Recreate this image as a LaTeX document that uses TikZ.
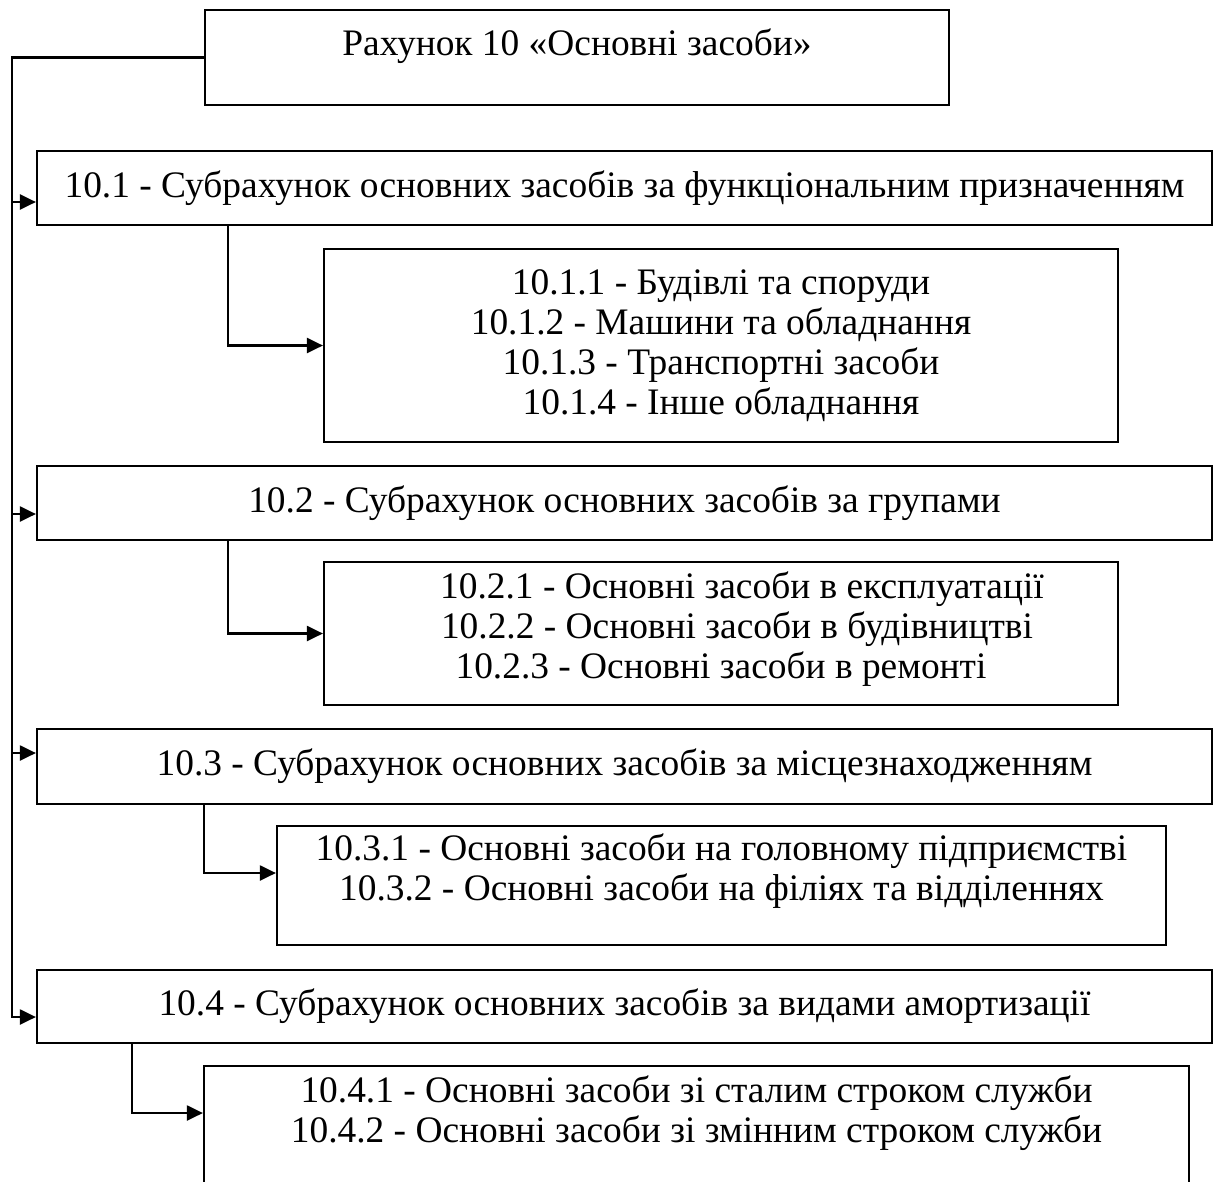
\documentclass[tikz,border=0pt]{standalone}
\usepackage{fontspec}
\setmainfont{Liberation Serif}
\usetikzlibrary{arrows.meta,positioning}
\tikzset{box/.style={draw,rectangle,inner sep=0pt,align=center}}
\begin{document}
\begin{tikzpicture}[x=1pt,y=-1pt,>={Triangle[length=16pt,width=15pt]},line width=2.2pt,font=\fontsize{37.4}{40}\selectfont]
	\def\tx{12} \def\wide{1175pt} % trunk and width of the subaccount boxes
	\useasboundingbox (0,0) rectangle (1213,1181);
	\clip (0,0) rectangle (1213,1181);
	\node[box,minimum width=744pt,minimum height=95pt,text depth=30pt] (acc) at (577,57.5) {Рахунок 10 «Основні засоби»};
	\node[box,minimum width=\wide,minimum height=74pt] (b1) at (624.5,188) {10.1 - Субрахунок основних засобів за функціональним призначенням};
	\node[box,minimum width=794pt,minimum height=193pt] (s1) at (721,345.5) {10.1.1 - Будівлі та споруди\\10.1.2 - Машини та обладнання\\10.1.3 - Транспортні засоби\\10.1.4 - Інше обладнання};
	\node[box,minimum width=\wide,minimum height=74pt] (b2) at (624.5,503) {10.2 - Субрахунок основних засобів за групами};
	\node[box,minimum width=794pt,minimum height=143pt,text depth=17pt] (s2) at (721,633.5) {\hspace*{42pt}10.2.1 - Основні засоби в експлуатації\\\hspace*{32pt}10.2.2 - Основні засоби в будівництві\\10.2.3 - Основні засоби в ремонті};
	\node[box,minimum width=\wide,minimum height=75pt] (b3) at (624.5,766.5) {10.3 - Субрахунок основних засобів за місцезнаходженням};
	\node[box,minimum width=889pt,minimum height=119pt,text depth=37pt] (s3) at (721.5,885.5) {10.3.1 - Основні засоби на головному підприємстві\\10.3.2 - Основні засоби на філіях та відділеннях};
	\node[box,minimum width=\wide,minimum height=73pt] (b4) at (624.5,1006.5) {10.4 - Субрахунок основних засобів за видами амортизації};
	\node[box,minimum width=985pt,minimum height=124pt,text depth=37pt] (s4) at (696.5,1128) {10.4.1 - Основні засоби зі сталим строком служби\\10.4.2 - Основні засоби зі змінним строком служби};
	\coordinate (tr) at (\tx,0);
	\coordinate (a1) at ([yshift=-14pt]b1.west);
	\coordinate (a2) at ([yshift=-11pt]b2.west);
	\coordinate (a3) at ([yshift=13.5pt]b3.west);
	\coordinate (a4) at ([yshift=-10.5pt]b4.west);
	\draw[->] (acc.west) -| (tr |- a4) -- (a4);
	\foreach \i in {1,2,3}
	\draw[->] (tr |- a\i) -- (a\i);
	\draw[->] ([xshift=192pt]b1.south west) |- (s1.west);
	\draw[->] ([xshift=192pt]b2.south west) |- (s2.west);
	\draw[->] ([xshift=168pt]b3.south west) |- ([yshift=12.5pt]s3.west);
	\draw[->] ([xshift=96pt]b4.south west) |- ([yshift=15pt]s4.west);
\end{tikzpicture}
\end{document}
